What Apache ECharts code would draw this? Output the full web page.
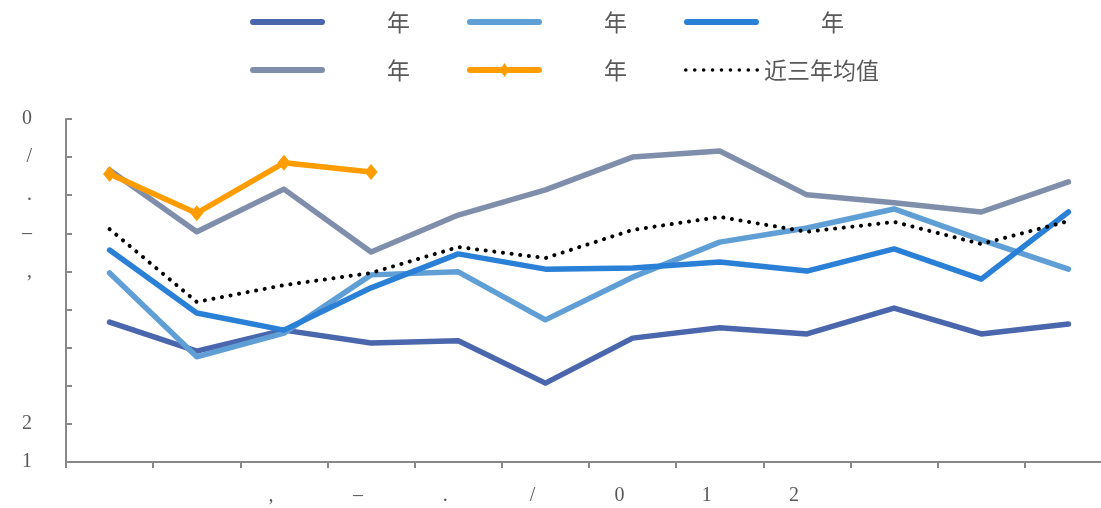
<!DOCTYPE html>
<html>
<head>
<meta charset="utf-8">
<script src="https://cdn.jsdelivr.net/npm/echarts@6/dist/echarts.min.js"></script>
<style>
  html, body { margin: 0; padding: 0; background: #fff; }
  #main { width: 1101px; height: 508px; }
</style>
</head>
<body>
<div id="main"></div>
<script>
// ---- data ----
var categories = ['1', '2', '3', '4', '5', '6', '7', '8', '9', '10', '11', '12'];
var xTickLabels = ['', '', ',', '–', '.', '/', '0', '1', '2', '', '', ''];
var yTickLabels = ['1', '2', '', '', '', ',', '–', '.', '/', '0']; // bottom to top
var legendLabels = ['年', '年', '年', '年', '年', '近三年均值'];
var seriesKeys = ['s1', 's2', 's3', 's4', 's5', 's6'];

var s1 = [3.67, 2.91, 3.46, 3.12, 3.18, 2.07, 3.25, 3.52, 3.36, 4.04, 3.36, 3.62];
var s2 = [4.96, 2.76, 3.38, 4.91, 4.99, 3.73, 4.85, 5.77, 6.14, 6.64, 5.83, 5.06];
var s3 = [5.56, 3.91, 3.46, 4.57, 5.46, 5.06, 5.09, 5.25, 5.01, 5.59, 4.80, 6.56];
var s4 = [7.66, 6.04, 7.16, 5.51, 6.48, 7.14, 8.00, 8.16, 7.01, 6.80, 6.56, 7.35];
var s5 = [7.56, 6.53, 7.85, 7.61];
var avg3 = [6.11, 4.20, 4.64, 4.96, 5.64, 5.35, 6.09, 6.43, 6.04, 6.30, 5.72, 6.32];

var colors = ['#4a66ac', '#5f9fd6', '#2a7fd6', '#7f8fab', '#ff9c00', '#000000'];

// legend icon shapes
var capsuleIcon = 'path://M3,0 L72,0 A3,3 0 0 1 72,6 L3,6 A3,3 0 0 1 3,0 Z';
var diamondIcon = 'path://M3,4 L72,4 A3,3 0 0 1 72,10 L3,10 A3,3 0 0 1 3,4 Z M37.5,0 L42,7 L37.5,14 L33,7 Z';
var dotsIcon = (function () {
  var p = 'path://';
  for (var i = 0; i < 9; i++) {
    var cx = 2 + i * 8.9;
    p += 'M' + (cx - 1.8) + ',2 A1.8,1.8 0 1 0 ' + (cx + 1.8) + ',2 A1.8,1.8 0 1 0 ' + (cx - 1.8) + ',2 Z ';
  }
  return p;
})();
var legendIcons = [capsuleIcon, capsuleIcon, capsuleIcon, capsuleIcon, diamondIcon, dotsIcon];

var chart = echarts.init(document.getElementById('main'), null, { renderer: 'canvas' });

function legendFormatter(name) {
  var i = seriesKeys.indexOf(name);
  var label = legendLabels[i];
  if (i === 5) return label;
  return '{s| }' + label;
}

var legendText = {
  color: '#595959',
  fontFamily: 'Noto Sans CJK SC',
  fontSize: 23,
  lineHeight: 26,
  rich: { s: { width: 57, fontSize: 23 } }
};

function legendData(from, to) {
  var out = [];
  for (var i = from; i < to; i++) {
    out.push({ name: seriesKeys[i], icon: legendIcons[i], itemStyle: { color: colors[i] } });
  }
  return out;
}

function lineSeries(idx, data, extra) {
  var base = {
    name: seriesKeys[idx],
    type: 'line',
    data: data,
    symbol: 'none',
    showSymbol: false,
    lineStyle: { color: colors[idx], width: 5.5, cap: 'round', join: 'round' },
    itemStyle: { color: colors[idx] },
    z: 2 + idx
  };
  return Object.assign(base, extra || {});
}

var option = {
  animation: false,
  backgroundColor: '#ffffff',
  legend: [
    {
      data: legendData(0, 3),
      left: 250, top: 9, padding: 0,
      itemWidth: 75, itemHeight: 14, itemGap: 57,
      formatter: legendFormatter,
      textStyle: legendText
    },
    {
      data: legendData(3, 6),
      left: 250, top: 57, padding: 0,
      itemWidth: 75, itemHeight: 14, itemGap: 57,
      formatter: legendFormatter,
      textStyle: legendText
    }
  ],
  grid: { left: 66, width: 1046, top: 119, bottom: 46, containLabel: false, outerBoundsMode: 'none' },
  xAxis: {
    type: 'category',
    data: categories,
    boundaryGap: true,
    axisLine: { lineStyle: { color: '#888888', width: 2 } },
    axisTick: { show: true, inside: false, length: 6, interval: 0, lineStyle: { color: '#888888', width: 2 } },
    axisLabel: {
      interval: 0,
      margin: 24,
      color: '#595959',
      fontFamily: 'Liberation Serif',
      fontSize: 20,
      padding: [0, 26, 0, 0],
      formatter: function (v, i) { return xTickLabels[i]; }
    },
    splitLine: { show: false }
  },
  yAxis: {
    type: 'value',
    min: 0, max: 9, interval: 1,
    axisLine: { show: true, lineStyle: { color: '#888888', width: 2 } },
    axisTick: { show: true, inside: true, length: 6, lineStyle: { color: '#888888', width: 2 } },
    axisLabel: {
      margin: 34,
      color: '#595959',
      fontFamily: 'Liberation Serif',
      fontSize: 20,
      padding: [6, 0, 0, 0],
      formatter: function (v) { return yTickLabels[Math.round(v)]; }
    },
    splitLine: { show: false }
  },
  series: [
    lineSeries(0, s1),
    lineSeries(1, s2),
    lineSeries(2, s3),
    lineSeries(3, s4),
    lineSeries(4, s5, { symbol: 'diamond', showSymbol: true, symbolSize: [13, 16] }),
    lineSeries(5, avg3, { lineStyle: { color: '#000000', width: 4, type: [0.1, 8.6], cap: 'round', join: 'round' } })
  ]
};

chart.setOption(option);
</script>
</body>
</html>
